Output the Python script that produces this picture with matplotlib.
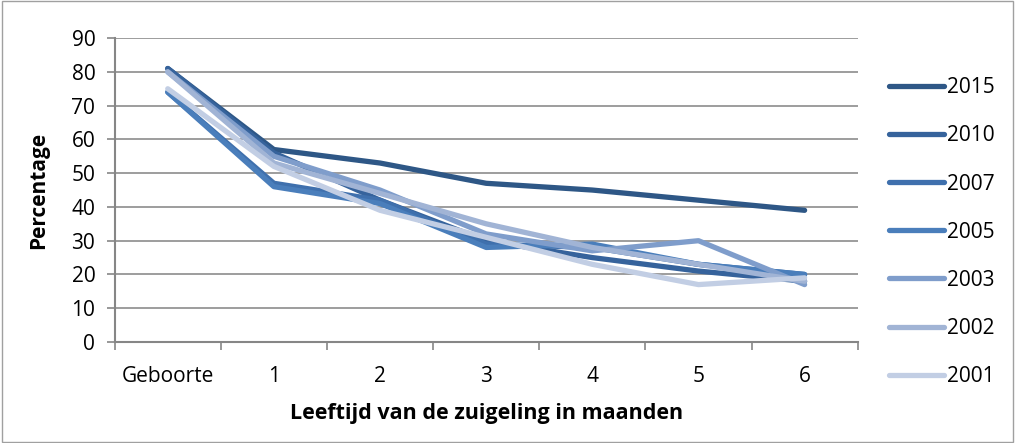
import numpy as np
import matplotlib.pyplot as plt

categories = ["Geboorte", "1", "2", "3", "4", "5", "6"]
years = ["2015", "2010", "2007", "2005", "2003", "2002", "2001"]
v2015 = [81, 57, 53, 47, 45, 42, 39]
v2010 = [81, 56, 42, 30, 25, 21, 18]
v2007 = [74, 47, 42, 29, 28, 23, 20]
v2005 = [74, 46, 41, 28, 29, 23, 20]
v2003 = [80, 55, 45, 32, 27, 30, 17]
v2002 = [80, 53, 44, 35, 28, 23, 18]
v2001 = [75, 52, 39, 31, 23, 17, 19]
colors = ["#2e5786", "#36639c", "#3f70ad", "#4a7ebb", "#7f9dcb", "#a1b4d5", "#c2cee4"]

plt.rcParams['font.family'] = ['Open Sans', 'DejaVu Sans']

fig = plt.figure(figsize=(10.15, 4.43), dpi=100)
ax = fig.add_axes([0.113, 0.228, 0.732, 0.686])

x = np.arange(len(categories))
allvals = [v2015, v2010, v2007, v2005, v2003, v2002, v2001]
# lightest drawn last, sits on top like the original
for vals, yr, c in zip(allvals, years, colors):
    ax.plot(x, vals, color=c, lw=3.8, solid_capstyle='round', solid_joinstyle='round', label=yr)

ax.set_xlim(-0.5, 6.5)
ax.set_ylim(0, 90)
ax.set_yticks(range(0, 91, 10))
ax.set_xticks(x)
ax.set_xticklabels(categories)
ax.set_xticks(np.arange(-0.5, 7, 1), minor=True)
ax.tick_params(axis='x', which='major', length=0, pad=17, labelsize=15)
ax.tick_params(axis='x', which='minor', length=6, width=1.2, color='#868686')
ax.tick_params(axis='y', length=6, width=1.2, color='#868686', labelsize=15, pad=8)
ax.grid(axis='y', color='#8c8c8c', lw=1.2)
ax.set_axisbelow(True)
for s in ['top', 'right']:
    ax.spines[s].set_visible(False)
for s in ['left', 'bottom']:
    ax.spines[s].set_color('#868686')
    ax.spines[s].set_linewidth(1.5)

ax.set_ylabel("Percentage", fontsize=15, fontweight='bold', labelpad=16)
ax.set_xlabel("Leeftijd van de zuigeling in maanden", fontsize=15.5, fontweight='bold', labelpad=12)

leg = fig.legend(loc='center left', bbox_to_anchor=(0.876, 0.476), frameon=False, fontsize=15,
                 handlelength=2.65, handletextpad=0.15, labelspacing=1.3, borderpad=0,
                 borderaxespad=0)

fig.patches.append(plt.Rectangle((0.002, 0.003), 0.996, 0.994, transform=fig.transFigure,
                                 fill=False, edgecolor='#a0a0a0', lw=1))

fig.savefig("out.png", dpi=100)
